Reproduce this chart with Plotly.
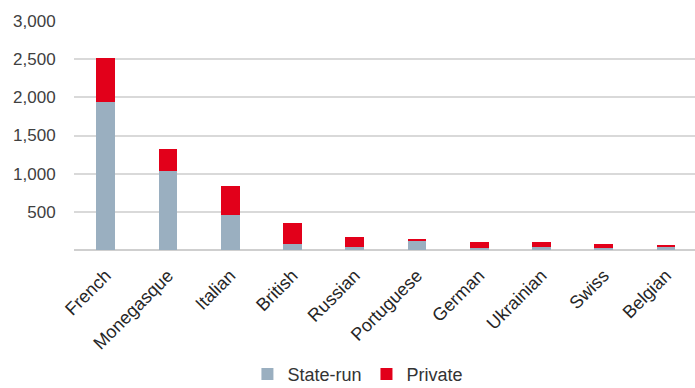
import plotly.graph_objects as go

categories = ["French", "Monegasque", "Italian", "British", "Russian",
              "Portuguese", "German", "Ukrainian", "Swiss", "Belgian"]
state_run = [1940, 1040, 465, 85, 45, 125, 22, 35, 30, 35]
private = [580, 285, 380, 265, 130, 15, 80, 65, 55, 35]
y_ticks = [500, 1000, 1500, 2000, 2500, 3000]
y_tick_text = ["500", "1,000", "1,500", "2,000", "2,500", "3,000"]

FONT = "Liberation Sans, Arial, sans-serif"

fig = go.Figure()
fig.add_trace(go.Bar(x=categories, y=state_run, name="State-run",
                     marker=dict(color="#9aafc0", line=dict(width=0))))
fig.add_trace(go.Bar(x=categories, y=private, name="Private",
                     marker=dict(color="#e2001a", line=dict(width=0))))

fig.update_layout(
    width=695, height=388,
    barmode="stack", bargap=0.695,
    margin=dict(l=74, r=0, t=21, b=138),
    paper_bgcolor="white", plot_bgcolor="white",
    font=dict(family=FONT, size=17, color="#404040"),
    showlegend=True,
    legend=dict(orientation="h", xref="container", yref="container",
                x=0.515, xanchor="center", y=0.035, yanchor="middle",
                font=dict(size=18, color="#333333"),
                itemwidth=30, traceorder="normal"),
    xaxis=dict(type="category", range=[-0.51, 9.466], tickangle=-45,
               showgrid=False, showline=False, ticks="outside", ticklen=7,
               tickcolor="rgba(0,0,0,0)",
               tickfont=dict(size=18, color="#262626")),
    yaxis=dict(range=[0, 3000], tickvals=y_ticks, ticktext=y_tick_text,
               showgrid=True, gridcolor="#d9d9d9", gridwidth=1.5,
               zeroline=True, zerolinecolor="#cfcfcf", zerolinewidth=2,
               showline=False, ticks="outside", ticklen=14,
               tickcolor="rgba(0,0,0,0)",
               tickfont=dict(size=17, color="#404040")),
)

fig.write_html("out.html")
